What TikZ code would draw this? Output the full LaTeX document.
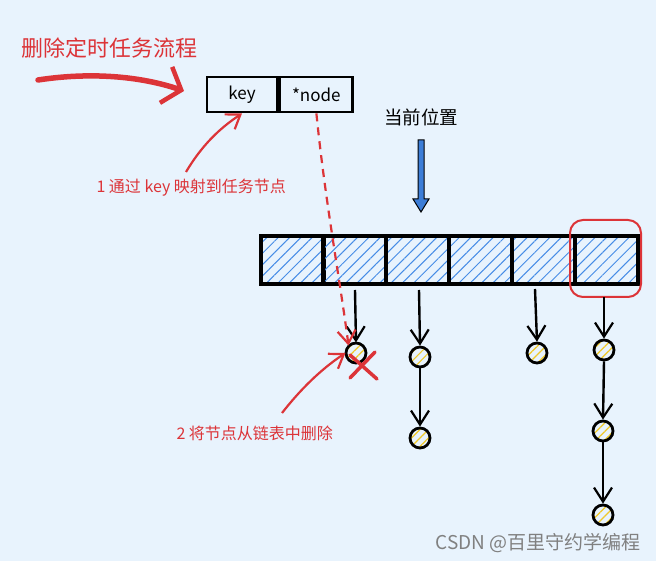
\documentclass[tikz,border=0pt]{standalone}
\usepackage{fontspec}
\newfontfamily\cjk{Noto Sans CJK SC}
\usetikzlibrary{arrows.meta,patterns.meta}
\definecolor{bg}{RGB}{232,243,253}
\definecolor{myred}{RGB}{220,52,56}
\definecolor{hatch}{RGB}{70,140,230}
\definecolor{ballc}{RGB}{240,200,40}
\definecolor{barrow}{RGB}{60,125,215}
\tikzset{
  cell/.style={draw=black,line width=3.5pt,minimum width=63pt,minimum height=48pt,inner sep=0pt,
    pattern={Lines[angle=45,distance=8pt,line width=1pt]},pattern color=hatch},
  ball/.style={circle,draw=black,line width=2.8pt,minimum size=20pt,inner sep=0pt,
    pattern={Lines[angle=45,distance=6pt,line width=1.2pt]},pattern color=ballc},
  keybox/.style={draw=black,line width=2.8pt,minimum height=35pt,inner sep=0pt,font=\cjk\fontsize{17}{19}\selectfont},
  darr/.style={line width=2.4pt,-{Straight Barb[length=14pt,width=18pt,line width=2.2pt]}},
  rarr/.style={myred,line width=2.2pt,-{Straight Barb[length=13pt,width=18pt,line width=2.2pt]}},
  redtext/.style={myred,font=\cjk\fontsize{16}{18}\selectfont},
}
\begin{document}
\begin{tikzpicture}[x=1pt,y=-1pt]
\fill[bg] (0,0) rectangle (656,561);
\useasboundingbox (0,0) rectangle (656,561);

% title
\node[myred,font=\cjk\fontsize{22}{25}\selectfont,anchor=west] (title) at (18,48) {删除定时任务流程};
\coordinate (bigs) at (38,80);
\coordinate (bige) at (184,91);
\draw[myred,line width=5.5pt,line cap=round,-{Straight Barb[length=16pt,width=38pt,line width=4.5pt]}]
  (bigs) .. controls (90,72) and (140,76) .. (bige);

% key box
\node[keybox,minimum width=70pt] (key) at (242,94.5) {key};
\node[keybox,minimum width=73pt,anchor=west] (nd) at (key.east) {*node};

% current position
\node[font=\cjk\fontsize{18.5}{21}\selectfont] (pos) at (421,117) {当前位置};
\draw[black,line width=1pt,fill=barrow]
  (418,140) -- (424,140) -- (424,199) -- (429,199) -- (421,212) -- (413,199) -- (418,199) -- cycle;

% cells
\foreach \i/\x in {1/292.5,2/354.5,3/417.5,4/480.5,5/543.5,6/606.5}
  \node[cell] (c\i) at (\x,260) {};
\draw[myred,line width=2pt,rounded corners=13pt] (570,220) rectangle (641,297);
\node[inner sep=0pt,minimum width=71pt,minimum height=77pt] (sel) at (605.5,258.5) {};

% balls
\node[ball] (b2) at (356,353) {};
\node[ball] (b3) at (420,357) {};
\node[ball] (b3b) at (420,438) {};
\node[ball] (b5) at (537,353) {};
\node[ball] (b6) at (604,350) {};
\node[ball] (b6b) at (603,431) {};
\node[ball] (b6c) at (603,515) {};

\draw[darr] (355,290) -- (b2.north);
\draw[darr] (419,290) -- (b3.north);
\draw[darr] (b3.south) -- (b3b.north);
\draw[darr] (535,289) -- (b5.north);
\draw[darr] (sel.south -| b6) -- (b6.north);
\draw[darr] (b6.south) -- (b6b.north);
\draw[darr] (b6b.south) -- (b6c.north);

% red X
\draw[myred,line width=3.5pt,line cap=round] (350,355) -- (377,379);
\draw[myred,line width=3.5pt,line cap=round] (375,352) -- (350,378);

% annotations
\node[redtext,anchor=west] (t1) at (93,188) {1 通过 key 映射到任务节点};
\draw[rarr] (186,172) .. controls (205,140) and (225,125) .. (key.south);
\draw[rarr,dashed,dash pattern=on 8pt off 6pt] (nd.south west) ++(38pt,0) .. controls (325,200) and (340,280) .. (b2.north west);
\node[redtext,anchor=west] (t2) at (173,433) {2 将节点从链表中删除};
\draw[rarr] (282,413) .. controls (300,390) and (320,370) .. (b2.west);

% watermark
\node[gray,font=\cjk\fontsize{19}{21}\selectfont] (wm) at (538,543) {CSDN @百里守约学编程};
\end{tikzpicture}
\end{document}
